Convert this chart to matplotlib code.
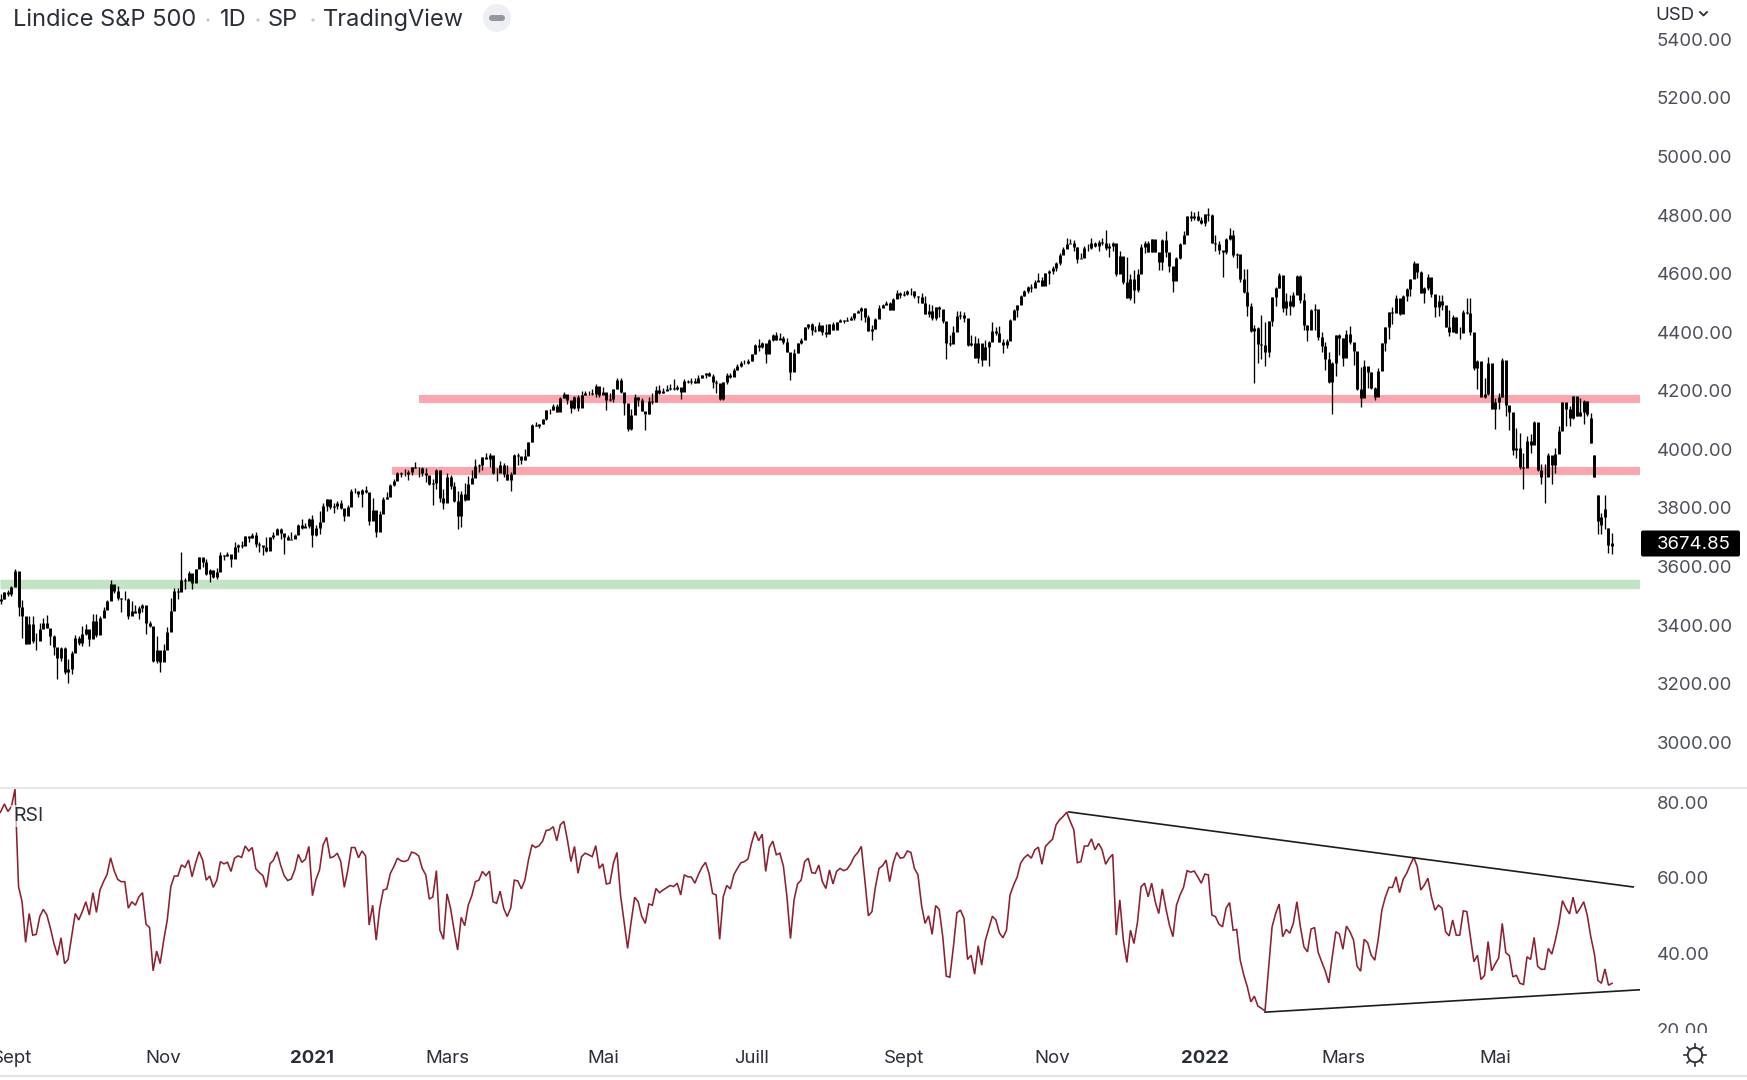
"""S&P 500 daily candles with RSI pane, TradingView style."""
import numpy as np
import matplotlib

matplotlib.use("Agg")
import matplotlib.pyplot as plt
from matplotlib.patches import Circle, FancyBboxPatch
from matplotlib.transforms import Bbox, Affine2D

plt.rcParams["font.family"] = ["Inter", "DejaVu Sans"]

# one row per calendar month, Aug 2020 -> Jun 2022
closes = [
    3478,3484,3508,3500,
    3526,3580,3455,3427,3331,3398,3339,3341,3383,3401,3385,3357,3319,3281,3315,3236,3246,3298,3351,3335,3363,
    3381,3348,3408,3361,3419,3447,3477,3534,3511,3489,3483,3484,3427,3443,3436,3453,3465,3401,3391,3271,3310,3270,
    3310,3370,3443,3510,3509,3550,3545,3572,3537,3585,3627,3610,3568,3582,3558,3577,3635,3630,3638,3622,
    3662,3669,3666,3699,3692,3702,3673,3668,3663,3647,3695,3702,3722,3709,3695,3687,3690,3703,3735,3727,3732,3756,
    3701,3727,3748,3803,3825,3799,3801,3810,3795,3768,3799,3852,3853,3841,3855,3849,3751,3787,3714,
    3774,3826,3831,3872,3887,3915,3911,3910,3917,3935,3932,3931,3914,3906,3876,3881,3925,3829,3811,
    3901,3870,3820,3768,3842,3821,3875,3898,3939,3943,3968,3962,3974,3915,3913,3940,3911,3889,3909,3975,3971,3959,3973,
    4020,4077,4074,4080,4097,4129,4128,4142,4124,4170,4185,4163,4135,4173,4135,4180,4187,4187,4183,4211,4181,
    4192,4165,4168,4201,4233,4189,4152,4063,4113,4174,4163,4127,4116,4159,4156,4197,4188,4195,4200,4204,
    4202,4208,4192,4229,4226,4227,4220,4239,4247,4255,4246,4224,4221,4166,4224,4247,4241,4266,4280,4291,4291,4297,
    4319,4352,4343,4358,4320,4369,4384,4369,4374,4360,4327,4258,4323,4359,4367,4411,4422,4401,4400,4419,4395,
    4387,4423,4402,4429,4436,4432,4436,4442,4460,4468,4479,4448,4400,4405,4441,4479,4486,4496,4470,4509,4528,4522,
    4524,4536,4535,4520,4514,4493,4458,4468,4443,4480,4473,4433,4358,4354,4395,4449,4455,4443,4352,4359,4307,
    4357,4300,4345,4363,4399,4391,4361,4350,4364,4438,4471,4486,4519,4536,4549,4545,4566,4574,4551,4596,4605,
    4613,4630,4660,4680,4697,4701,4685,4646,4649,4682,4682,4700,4688,4704,4698,4682,4690,4701,4595,4655,4567,
    4513,4577,4538,4592,4686,4701,4667,4712,4668,4634,4709,4668,4620,4568,4649,4696,4726,4791,4786,4793,4778,4766,
    4797,4794,4701,4696,4677,4670,4713,4726,4659,4663,4577,4533,4483,4398,4410,4356,4350,4326,4432,4516,
    4546,4589,4477,4501,4484,4521,4587,4504,4419,4401,4472,4475,4380,4349,4305,4226,4288,4385,4374,
    4306,4387,4363,4329,4201,4171,4278,4260,4204,4173,4262,4358,4412,4463,4461,4512,4457,4520,4543,4575,4632,4602,4530,
    4546,4583,4525,4481,4500,4488,4413,4397,4447,4393,4392,4463,4459,4394,4272,4296,4175,4183,4288,4132,
    4155,4175,4301,4147,4123,3991,4001,3935,3930,4024,4008,4088,3923,3901,3901,3974,3941,3979,4058,4158,4132,
    4101,4176,4109,4121,4161,4116,4018,3901,3750,3735,3790,3667,3675,
]
highs = [
    3482,3501,3509,3514,
    3529,3588,3564,3479,3379,3426,3425,3368,3402,3419,3429,3376,3362,3286,3320,3320,3279,3306,3361,3358,3393,
    3398,3370,3432,3432,3426,3458,3482,3550,3528,3528,3489,3512,3486,3476,3465,3461,3466,3457,3409,3342,3358,3304,
    3330,3389,3486,3521,3521,3645,3557,3581,3569,3585,3628,3624,3619,3586,3582,3589,3643,3635,3645,3634,
    3678,3670,3682,3699,3698,3708,3713,3678,3665,3697,3695,3711,3726,3726,3703,3703,3712,3706,3740,3756,3744,3760,
    3770,3738,3783,3811,3827,3823,3810,3820,3823,3788,3804,3860,3862,3852,3860,3870,3837,3830,3778,
    3784,3831,3848,3876,3895,3916,3918,3929,3925,3935,3951,3933,3935,3931,3902,3895,3928,3925,3861,
    3914,3906,3883,3852,3851,3881,3903,3923,3961,3944,3970,3982,3983,3969,3930,3956,3949,3942,3919,3978,3981,3969,3995,
    4021,4083,4087,4083,4098,4130,4131,4148,4151,4173,4191,4180,4160,4176,4179,4194,4195,4193,4201,4219,4199,
    4209,4187,4187,4202,4238,4237,4162,4134,4132,4183,4172,4170,4117,4172,4188,4210,4214,4203,4213,4218,
    4234,4213,4204,4234,4233,4237,4238,4249,4249,4256,4258,4252,4232,4204,4226,4256,4256,4271,4287,4296,4301,4302,
    4321,4355,4372,4362,4355,4372,4387,4394,4393,4382,4376,4296,4337,4359,4375,4412,4422,4427,4415,4430,4412,
    4422,4423,4429,4430,4441,4437,4445,4449,4461,4469,4480,4478,4455,4418,4444,4489,4492,4503,4498,4513,4538,4532,
    4537,4538,4545,4536,4519,4529,4520,4492,4486,4480,4485,4464,4402,4385,4416,4466,4466,4465,4419,4385,4382,
    4375,4355,4369,4365,4429,4412,4416,4372,4372,4440,4475,4487,4521,4540,4552,4560,4572,4598,4584,4598,4608,
    4620,4636,4664,4684,4718,4714,4708,4685,4664,4688,4697,4715,4702,4708,4718,4744,4699,4704,4650,4672,4646,
    4652,4595,4608,4612,4695,4706,4705,4713,4711,4660,4712,4741,4666,4592,4651,4700,4740,4791,4808,4805,4809,4787,
    4797,4818,4797,4725,4707,4673,4715,4749,4744,4666,4615,4611,4612,4495,4418,4411,4454,4429,4433,4516,
    4550,4596,4540,4530,4522,4531,4590,4589,4527,4418,4473,4490,4449,4395,4363,4327,4294,4385,4388,
    4375,4401,4416,4343,4327,4276,4300,4269,4258,4208,4272,4358,4412,4465,4481,4522,4500,4521,4546,4575,4637,4627,4604,
    4549,4593,4572,4521,4522,4521,4465,4471,4453,4448,4411,4471,4513,4513,4386,4299,4278,4240,4309,4270,
    4170,4186,4308,4270,4141,4082,4068,4050,3983,4039,4047,4090,4043,3946,3944,3982,3956,3999,4075,4158,4150,
    4142,4178,4147,4169,4164,4160,4120,3974,3838,3778,3838,3728,3708,
]
lows = [
    3468,3468,3484,3493,
    3494,3535,3427,3350,3329,3349,3332,3311,3363,3389,3385,3328,3292,3210,3271,3229,3197,3229,3330,3327,3323,
    3362,3323,3367,3354,3384,3421,3450,3493,3504,3480,3441,3479,3416,3436,3436,3416,3441,3364,3388,3270,3265,3233,
    3279,3333,3405,3477,3484,3547,3518,3551,3518,3544,3600,3592,3567,3543,3557,3553,3593,3617,3629,3594,
    3646,3644,3658,3670,3679,3693,3662,3646,3633,3644,3660,3689,3711,3689,3636,3686,3690,3701,3723,3723,3730,3726,
    3662,3700,3705,3765,3784,3790,3776,3790,3792,3750,3780,3816,3845,3831,3797,3847,3736,3756,3694,
    3725,3791,3827,3841,3871,3892,3902,3905,3891,3907,3931,3901,3905,3884,3874,3805,3859,3815,3790,
    3842,3859,3815,3723,3730,3819,3844,3885,3911,3919,3923,3962,3935,3910,3886,3916,3901,3889,3853,3918,3942,3945,3958,
    3993,4020,4074,4068,4082,4096,4115,4130,4121,4140,4170,4151,4119,4131,4127,4139,4180,4181,4182,4174,4175,
    4188,4128,4161,4158,4201,4188,4111,4057,4061,4142,4142,4127,4062,4114,4151,4158,4183,4188,4197,4199,
    4197,4198,4167,4196,4220,4218,4220,4232,4239,4238,4246,4203,4188,4164,4165,4217,4240,4254,4267,4275,4285,4287,
    4298,4322,4329,4340,4289,4329,4365,4369,4370,4356,4327,4233,4264,4323,4353,4371,4406,4384,4395,4407,4385,
    4380,4387,4403,4410,4430,4427,4432,4436,4436,4461,4437,4431,4400,4368,4407,4448,4483,4487,4469,4472,4513,4513,
    4520,4523,4522,4513,4494,4493,4458,4445,4435,4437,4447,4427,4305,4346,4368,4420,4439,4430,4347,4347,4306,
    4288,4279,4305,4278,4368,4386,4360,4325,4340,4390,4441,4447,4490,4519,4530,4531,4548,4570,4551,4560,4561,
    4595,4604,4625,4664,4681,4698,4672,4631,4647,4651,4673,4680,4684,4672,4691,4676,4653,4671,4586,4626,4560,
    4510,4504,4496,4532,4598,4666,4667,4670,4668,4606,4607,4651,4600,4532,4583,4646,4703,4734,4775,4778,4776,4765,
    4758,4774,4699,4671,4663,4582,4662,4709,4651,4614,4565,4530,4450,4396,4222,4288,4305,4279,4309,4415,
    4484,4547,4465,4455,4452,4482,4547,4493,4402,4364,4429,4404,4368,4328,4267,4223,4114,4246,4317,
    4279,4317,4355,4284,4199,4138,4224,4205,4200,4162,4190,4267,4329,4372,4424,4469,4455,4466,4502,4517,4589,4581,4530,
    4496,4539,4514,4446,4450,4471,4411,4382,4394,4393,4373,4402,4458,4386,4267,4200,4175,4170,4181,4132,
    4063,4134,4174,4107,4062,3976,3965,3928,3859,3975,3984,4034,3920,3877,3811,3913,3875,3914,3984,4078,4075,
    4073,4097,4109,4110,4081,4110,4017,3900,3705,3707,3723,3640,3637,
]
# bodies open at the previous close except where the chart shows a gap
gap_opens = {-7: 4102, -6: 3974, -5: 3838, -4: 3765, -3: 3764, -2: 3728, -1: 3665}

rsi = [
    76.0,77.1,79.1,77.1,78.4,83.0,57.3,53.3,42.6,50.2,
    44.5,44.7,49.4,51.3,49.8,46.3,42.3,39.2,43.8,37.0,
    38.1,44.1,50.2,48.5,50.7,53.3,49.8,55.7,50.5,56.4,
    58.6,60.5,64.9,61.5,59.2,58.6,58.6,51.6,53.3,52.4,
    54.6,55.7,47.4,46.5,35.1,40.3,37.0,43.2,48.5,57.3,
    60.1,60.1,63.0,62.4,64.3,59.9,63.5,66.5,64.3,59.0,
    60.1,57.1,59.0,63.9,63.3,63.7,61.3,64.8,65.4,65.0,
    68.0,66.7,67.6,62.0,61.0,60.2,57.1,63.3,64.3,66.5,
    63.0,60.2,58.9,59.3,61.7,65.8,63.7,64.5,67.9,54.9,
    59.2,61.7,68.3,70.3,64.9,65.2,66.1,63.9,57.1,61.7,
    67.6,67.6,64.9,66.7,65.4,47.2,52.4,43.2,51.6,56.4,
    56.7,60.8,62.6,64.8,64.1,63.9,64.3,66.4,66.1,65.4,
    62.1,60.4,54.0,54.6,61.5,45.8,43.4,55.4,51.6,45.8,
    40.6,49.2,47.0,52.4,54.9,58.6,59.0,61.3,60.2,61.4,
    53.3,52.9,56.1,51.6,49.4,51.7,59.0,58.8,56.7,59.0,
    64.3,68.3,67.6,68.1,69.3,72.1,72.3,73.1,69.4,73.6,
    74.5,69.6,63.9,67.9,60.8,65.2,66.1,65.7,65.2,68.1,
    62.1,
    63.3,58.0,58.2,63.5,66.3,55.1,48.0,41.0,48.0,54.5,
    53.3,49.4,47.6,52.7,52.4,56.8,55.7,56.4,57.0,57.6,
    57.3,58.2,55.1,60.4,59.9,59.8,58.2,60.5,62.4,63.7,
    60.8,55.5,55.1,43.4,54.6,57.6,56.7,60.4,62.1,63.6,
    63.9,64.6,68.7,71.8,69.4,71.1,61.3,67.6,69.3,65.7,
    66.1,62.7,54.6,43.6,53.8,58.0,59.0,63.9,64.8,61.0,
    60.8,63.0,58.6,56.8,61.7,58.0,61.3,62.1,61.5,61.9,
    63.3,65.2,66.3,67.9,59.0,49.6,50.7,57.3,62.1,62.8,
    64.3,58.6,63.5,66.3,64.8,65.0,66.7,66.3,62.1,60.4,
    52.4,47.6,49.6,44.7,52.3,51.3,44.1,33.7,33.4,41.4,
    50.4,51.1,48.9,38.1,39.2,34.2,41.7,36.6,43.0,46.3,
    49.5,48.5,45.1,43.8,45.8,55.1,57.7,59.8,63.5,64.9,
    65.7,64.8,67.0,67.7,63.2,67.9,68.9,69.8,73.6,74.9,
    75.8,76.9,74.5,72.3,63.6,63.9,68.0,68.0,69.9,67.0,68.7,
    67.0,63.2,64.8,65.8,44.5,53.8,43.2,37.3,45.8,42.3,
    48.0,57.3,58.2,54.6,58.2,53.3,50.2,56.7,51.6,47.2,
    44.1,52.4,
    55.1,57.1,61.5,61.1,61.4,59.9,58.2,60.6,60.4,49.8,
    49.4,47.4,46.7,51.6,53.1,45.8,46.0,37.9,34.0,30.9,
    26.9,28.4,25.8,25.2,24.5,35.7,46.7,50.2,52.7,44.1,
    46.0,45.0,47.6,53.3,46.7,41.4,40.1,46.1,46.5,40.0,
    37.5,35.1,31.9,38.8,45.4,44.8,40.8,46.9,45.4,43.2,
    36.3,35.0,43.4,42.5,39.2,37.9,43.6,51.1,54.6,57.1,
    57.1,59.9,55.7,59.2,60.8,63.0,65.0,62.6,56.4,57.7,
    59.5,54.6,51.1,52.4,51.6,45.4,44.3,48.5,44.5,44.5,
    50.9,50.7,44.1,37.5,39.2,32.8,33.9,42.8,35.1,36.9,
    38.5,47.6,39.9,39.1,33.5,33.9,31.8,31.5,38.8,38.1,
    43.9,36.3,35.5,35.5,41.0,39.5,43.2,47.6,53.6,51.6,
    50.1,54.5,50.2,51.6,53.3,49.8,44.1,39.7,32.6,31.8,
    35.6,31.3,31.8,
]

price_ticks = [3000, 3200, 3400, 3600, 3800, 4000, 4200, 4400, 4600, 4800, 5000, 5200, 5400]
rsi_ticks = [20, 40, 60, 80]
month_bars = [4, 47, 89, 127, 171, 213, 256, 298, 341, 380, 423]
month_labels = ["Sept", "Nov", "2021", "Mars", "Mai", "Juill", "Sept", "Nov", "2022", "Mars", "Mai"]
last_price = 3674.85

# support / resistance bands: level, first bar
pink_levels = [4167, 3921]
pink_starts = [119, 111.5]
green_level = 3534
# RSI trendlines: bar and value at both ends
upper_trend_x, upper_trend_y = [302.5, 462], [77.0, 57.2]
lower_trend_x, lower_trend_y = [358, 463.9], [24.2, 30.1]

W, H = 1747, 1080
PANE_R, SPLIT, RSI_B = 1640, 788, 1033
TEXT = "#2a2e39"
AXIS_TEXT = "#4c4f59"
LINE = "#e3e4ea"

fig = plt.figure(figsize=(W / 100, H / 100), dpi=100, facecolor="white")
ax = fig.add_axes([0, 1 - SPLIT / H, PANE_R / W, SPLIT / H])
ax2 = fig.add_axes([0, 1 - RSI_B / H, PANE_R / W, (RSI_B - SPLIT) / H])

xlim = (0.764, 463.9)
bars = np.arange(len(closes))
c = np.array(closes, dtype=float)
o = np.r_[c[0], c[:-1]]
for k, v in gap_opens.items():
    o[k] = v

for level, start in zip(pink_levels, pink_starts):
    ax.hlines(level, start, xlim[1], color="#fca5ac", lw=5.8, zorder=1, capstyle="butt")
ax.hlines(green_level, xlim[0], xlim[1], color="#c3e3c5", lw=6.8, zorder=1, capstyle="butt")
ax.vlines(bars, lows, highs, color="black", lw=0.95, zorder=2, capstyle="butt")
ax.vlines(bars, o, c, color="black", lw=2.1, zorder=3, capstyle="butt")
ax.set_xlim(xlim)
ax.set_ylim(2838.6, 5529)

ax2.plot(bars, rsi, color="#8d2030", lw=1.15, zorder=2, solid_joinstyle="miter")
ax2.plot(upper_trend_x, upper_trend_y, color="#1c1c1c", lw=1.2, zorder=3)
ax2.plot(lower_trend_x, lower_trend_y, color="#1c1c1c", lw=1.2, zorder=3)
ax2.set_xlim(xlim)
ax2.set_ylim(18.7, 83.3)

for a in (ax, ax2):
    a.yaxis.tick_right()
    a.tick_params(axis="y", length=0, pad=12.2, labelsize=13.4, labelcolor=AXIS_TEXT)
    for s in a.spines.values():
        s.set_visible(False)
    a.set_facecolor("none")

ax.set_xticks([])
ax.set_yticks(price_ticks, [f"{v:.2f}" for v in price_ticks])
ax2.set_yticks(rsi_ticks, [f"{v:.2f}" for v in rsi_ticks])
ax2.set_xticks(month_bars, month_labels)
ax2.tick_params(axis="x", length=0, pad=12, labelsize=13.4, labelcolor=TEXT)
for lab in ax2.get_xticklabels():
    if lab.get_text().isdigit():
        lab.set_fontweight("bold")

# axis labels sit a little lower than their tick value; top/bottom ones are cut by the pane edge
nudge = Affine2D().translate(0, -1.5)
for lab in ax.get_yticklabels():
    lab.set_transform(lab.get_transform() + nudge)
    lab.set_clip_box(Bbox([[PANE_R, H - SPLIT], [W, H - 28]]))
    lab.set_clip_on(True)
for lab in ax2.get_yticklabels():
    lab.set_transform(lab.get_transform() + nudge)
    lab.set_clip_box(Bbox([[PANE_R, H - RSI_B], [W, H - SPLIT]]))
    lab.set_clip_on(True)

# overlay in pixel coordinates for the chart furniture
ov = fig.add_axes([0, 0, 1, 1], zorder=5)
ov.set_xlim(0, W)
ov.set_ylim(H, 0)
ov.axis("off")

ov.plot([0, W], [SPLIT, SPLIT], color=LINE, lw=1.2)
ov.plot([0, W], [1076, 1076], color=LINE, lw=1.6)

for x, s in ((13, "Lindice S&P 500"), (220, "1D"), (268, "SP"), (323, "TradingView")):
    ov.text(x, 20, s, fontsize=17.0, color=TEXT, ha="left", va="center")
for x in (208, 258, 313):
    ov.add_patch(Circle((x, 20), 1.6, color="#c5c7d0", lw=0))
ov.add_patch(Circle((497, 18), 14, color="#eeeff2", lw=0))
ov.add_patch(FancyBboxPatch((489, 15), 16, 6, boxstyle="round,pad=0,rounding_size=3",
                            color="#95979f", lw=0))

ov.text(1655, 16, "USD", fontsize=13.4, color=TEXT, ha="left", va="center")
ov.plot([1700, 1703.5, 1707], [12, 15.5, 12], color=TEXT, lw=1.3)

ov.add_patch(FancyBboxPatch((1641, 530.5), 99, 26, boxstyle="round,pad=0,rounding_size=2",
                            color="black", lw=0))
ov.text(1657, 544.5, f"{last_price:.2f}", fontsize=13.4, color="white", ha="left", va="center")

ov.text(13, 816, "RSI", fontsize=14, color=TEXT, ha="left", va="center",
        bbox=dict(facecolor="white", alpha=0.65, edgecolor="none", pad=1.5))

# sun icon
ov.add_patch(Circle((1695, 1055), 7.2, facecolor="none", edgecolor=TEXT, lw=1.3))
for ang in np.deg2rad(np.arange(0, 360, 45)):
    ov.plot([1695 + 7.5 * np.cos(ang), 1695 + 11 * np.cos(ang)],
            [1055 + 7.5 * np.sin(ang), 1055 + 11 * np.sin(ang)], color=TEXT, lw=1.2)

fig.savefig("out.png", dpi=100)
